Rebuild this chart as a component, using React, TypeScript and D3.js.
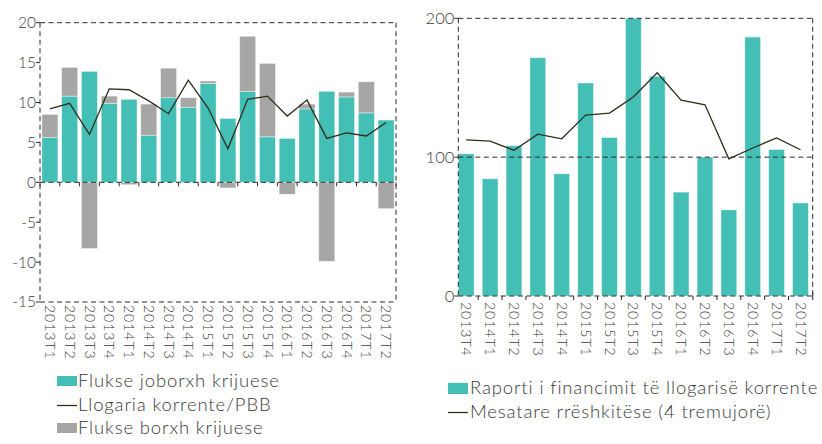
import React from "react";
import * as d3 from "d3";

const leftCats = ["2013T1","2013T2","2013T3","2013T4","2014T1","2014T2","2014T3","2014T4","2015T1","2015T2","2015T3","2015T4","2016T1","2016T2","2016T3","2016T4","2017T1","2017T2"];
const nonDebtFlows = [5.6,10.8,13.9,9.9,10.4,5.9,10.6,9.4,12.4,8.0,11.4,5.7,5.5,9.2,11.4,10.7,8.7,7.8];
const debtFlows = [2.9,3.6,-8.3,0.9,-0.3,3.9,3.7,1.2,0.3,-0.7,6.9,9.2,-1.5,0.6,-9.9,0.6,3.9,-3.3];
const currentAccount = [9.2,9.9,6.0,11.7,11.6,10.2,8.6,12.8,9.3,4.2,10.4,10.8,8.3,10.3,5.5,6.2,5.8,7.5];
const leftTicks = [20,15,10,5,0,-5,-10,-15];

const rightCats = ["2013T4","2014T1","2014T2","2014T3","2014T4","2015T1","2015T2","2015T3","2015T4","2016T1","2016T2","2016T3","2016T4","2017T1","2017T2"];
const financingRatio = [102.4,84.4,108.2,171.6,88,153.4,114.1,200,158.1,74.8,100,62,186.5,105.5,67];
const rollingAvg = [112.5,111.5,105,116.6,113.2,130.3,131.7,143.3,160.8,141.1,137.7,98.8,106.6,113.9,105.3];
const rightTicks = [200,100,0];

const TEAL = "#43bfb5";
const GRAY = "#a6a6a5";
const LINE = "#2e2e1c";
const TEXT = "#3a3a3a";
const AX = "#2a2a2a";
const FONT = "Lato, 'DejaVu Sans', sans-serif";
const DASH = "5,3.5";

function LeftChart() {
  const x0 = 40, x1 = 396, yTop = 22.7, yBot = 302;
  const x = d3.scaleBand<string>().domain(leftCats).range([x0, x1]).paddingInner(0.19).paddingOuter(0.095);
  const y = d3.scaleLinear().domain([-15, 20]).range([yBot, yTop]);
  const bw = x.bandwidth();
  const line = d3.line<number>().x((_, i) => (x(leftCats[i]) as number) + bw / 2).y(d => y(d));
  const step = x.step();
  return (
    <g>
      {leftCats.map((c, i) => {
        const bx = x(c) as number;
        const g = nonDebtFlows[i];
        const d = debtFlows[i];
        const gray = d >= 0
          ? <rect x={bx} y={y(g + d)} width={bw} height={y(g) - y(g + d)} fill={GRAY} stroke="#ffffff" strokeOpacity={0.5} strokeWidth={0.8} />
          : <rect x={bx} y={y(0)} width={bw} height={y(d) - y(0)} fill={GRAY} stroke="#ffffff" strokeOpacity={0.5} strokeWidth={0.8} />;
        return (
          <g key={c}>
            <rect x={bx} y={y(g)} width={bw} height={y(0) - y(g)} fill={TEAL} stroke="#ffffff" strokeOpacity={0.5} strokeWidth={0.8} />
            {gray}
          </g>
        );
      })}
      <line x1={x0} x2={x1} y1={yTop} y2={yTop} stroke={AX} strokeDasharray={DASH} />
      <line x1={x1} x2={x1} y1={yTop} y2={yBot} stroke={AX} strokeDasharray={DASH} />
      <line x1={x0} x2={x1} y1={yBot} y2={yBot} stroke={AX} strokeDasharray={DASH} />
      <line x1={x0} x2={x0} y1={yTop} y2={yBot} stroke={AX} strokeDasharray={DASH} />
      <line x1={x0} x2={x1} y1={y(0)} y2={y(0)} stroke={AX} strokeDasharray={DASH} />
      {leftCats.map((c, i) => {
        const bx = x0 + i * step;
        return <line key={"t" + c} x1={bx} x2={bx} y1={y(0)} y2={y(0) + 4} stroke={AX} />;
      })}
      <line x1={x1} x2={x1} y1={y(0)} y2={y(0) + 4} stroke={AX} />
      {leftTicks.map(t => (
        <g key={t}>
          <line x1={x0 - 4} x2={x0} y1={y(t)} y2={y(t)} stroke={AX} />
          <text x={x0 - 4} y={y(t)} dy="0.35em" textAnchor="end" fontSize={15.5} fontWeight={300} fill={TEXT} fontFamily={FONT}>{t}</text>
        </g>
      ))}
      <path d={line(currentAccount) || ""} fill="none" stroke={LINE} strokeWidth={1.3} />
      {leftCats.map(c => {
        const cx = (x(c) as number) + bw / 2;
        return (
          <text key={"l" + c} transform={`translate(${cx},${yBot + 3}) rotate(90)`} textAnchor="start" dy="0.35em" fontSize={14} fontWeight={300} fill={TEXT} fontFamily={FONT} letterSpacing={1}>{c}</text>
        );
      })}
      <rect x={57} y={376} width={20} height={10} fill={TEAL} />
      <text x={78} y={387} fontSize={18.5} fontWeight={300} letterSpacing={0.85} fill={TEXT} fontFamily={FONT}>Flukse joborxh krijuese</text>
      <line x1={57} x2={77} y1={405.5} y2={405.5} stroke={LINE} strokeWidth={1.3} />
      <text x={78} y={411} fontSize={18.5} fontWeight={300} letterSpacing={0.85} fill={TEXT} fontFamily={FONT}>Llogaria korrente/PBB</text>
      <rect x={57} y={423} width={20} height={10} fill={GRAY} />
      <text x={78} y={434} fontSize={18.5} fontWeight={300} letterSpacing={0.85} fill={TEXT} fontFamily={FONT}>Flukse borxh krijuese</text>
    </g>
  );
}

function RightChart() {
  const x0 = 458.3, x1 = 812.7, yTop = 18.3, yBot = 296;
  const x = d3.scaleBand<string>().domain(rightCats).range([454.3, 812.4]).paddingInner(0.34).paddingOuter(0.17);
  const y = d3.scaleLinear().domain([0, 200]).range([yBot, yTop]);
  const bw = x.bandwidth();
  const step = x.step();
  const line = d3.line<number>().x((_, i) => (x(rightCats[i]) as number) + bw / 2).y(d => y(d));
  return (
    <g>
      {rightCats.map((c, i) => (
        <rect key={c} x={x(c) as number} y={y(financingRatio[i])} width={bw} height={y(0) - y(financingRatio[i])} fill={TEAL} stroke="#ffffff" strokeOpacity={0.5} strokeWidth={0.8} />
      ))}
      <line x1={x0} x2={x1} y1={yTop} y2={yTop} stroke={AX} strokeDasharray={DASH} />
      <line x1={x1} x2={x1} y1={yTop} y2={yBot} stroke={AX} strokeDasharray={DASH} />
      <line x1={x0} x2={x0} y1={yTop} y2={yBot} stroke={AX} strokeDasharray={DASH} />
      <line x1={x0} x2={x1} y1={y(100)} y2={y(100)} stroke={AX} strokeDasharray={DASH} />
      <line x1={x0} x2={x1} y1={yBot} y2={yBot} stroke={AX} strokeDasharray={DASH} />
      {rightCats.map((c, i) => {
        if (i === 0) return null;
        const bx = (x(c) as number) - (step - bw) / 2;
        return <line key={"t" + c} x1={bx} x2={bx} y1={yBot} y2={yBot + 4} stroke={AX} />;
      })}
      <line x1={x1} x2={x1} y1={yBot - 4} y2={yBot + 4} stroke={AX} />
      {rightTicks.map(t => (
        <g key={t}>
          <line x1={x0 - 4} x2={x0} y1={y(t)} y2={y(t)} stroke={AX} />
          <text x={x0 - 4} y={y(t)} dy="0.35em" textAnchor="end" fontSize={16.5} fontWeight={300} fill={TEXT} fontFamily={FONT}>{t}</text>
        </g>
      ))}
      <path d={line(rollingAvg) || ""} fill="none" stroke={LINE} strokeWidth={1.3} />
      {rightCats.map(c => {
        const cx = (x(c) as number) + bw / 2;
        return (
          <text key={"l" + c} transform={`translate(${cx},${yBot + 6}) rotate(90)`} textAnchor="start" dy="0.35em" fontSize={14} fontWeight={300} fill={TEXT} fontFamily={FONT} letterSpacing={1}>{c}</text>
        );
      })}
      <rect x={448} y={383} width={20} height={11} fill={TEAL} />
      <text x={470} y={394} fontSize={18.5} fontWeight={300} letterSpacing={0.85} fill={TEXT} fontFamily={FONT}>Raporti i financimit të llogarisë korrente</text>
      <line x1={448} x2={468} y1={412.5} y2={412.5} stroke={LINE} strokeWidth={1.3} />
      <text x={470} y={418} fontSize={18.5} fontWeight={300} letterSpacing={0.85} fill={TEXT} fontFamily={FONT}>Mesatare rrëshkitëse (4 tremujorë)</text>
    </g>
  );
}

export default function App() {
  return (
    <svg width={822} height={444} style={{ position: "absolute", left: 0, top: 0, background: "#fff" }}>
      <rect width={822} height={444} fill="#fff" />
      <LeftChart />
      <RightChart />
    </svg>
  );
}
